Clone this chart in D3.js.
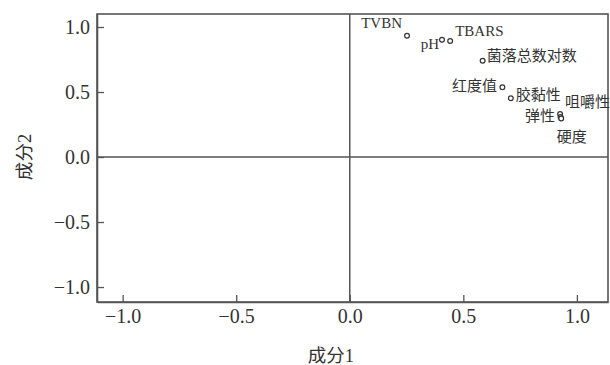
<!DOCTYPE html>
<html><head><meta charset="utf-8">
<script src="https://cdn.jsdelivr.net/npm/d3@7"></script>
<style>body{margin:0;background:#fff}</style>
</head><body><svg id="c" width="610" height="365"></svg>
<script>
// ---- data ----
const variables = ["TVBN", "pH", "TBARS", "菌落总数对数", "红度值", "胶黏性", "咀嚼性", "弹性", "硬度"];
const pc1 = [0.252, 0.406, 0.442, 0.585, 0.672, 0.709, 0.926, 0.928, 0.931];
const pc2 = [0.933, 0.902, 0.892, 0.741, 0.536, 0.452, 0.331, 0.308, 0.296];
const xTicks = [-1.0, -0.5, 0.0, 0.5, 1.0];
const yTicks = [-1.0, -0.5, 0.0, 0.5, 1.0];
const xTitle = "成分1";
const yTitle = "成分2";

// ---- label layout (offsets from the point, px) ----
const labelLayout = {
  "TVBN": {anchor: "end", dx: -5, dy: -7.5},
  "pH": {anchor: "end", dx: -3, dy: 9},
  "TBARS": {anchor: "start", dx: 5, dy: -5},
  "菌落总数对数": {anchor: "start", dx: 4, dy: 0},
  "红度值": {anchor: "end", dx: -5.5, dy: 4},
  "胶黏性": {anchor: "start", dx: 5, dy: 2},
  "咀嚼性": {anchor: "start", dx: 5, dy: -7},
  "弹性": {anchor: "end", dx: -5.5, dy: 4},
  "硬度": {anchor: "start", dx: -4.5, dy: 23.5}
};

const data = variables.map((v, i) => ({name: v, x: pc1[i], y: pc2[i]}));

const svg = d3.select("#c");
const L = 97, R = 608, T = 14, B = 302;
const x = d3.scaleLinear().domain([-1.113, 1.137]).range([L, R]);
const y = d3.scaleLinear().domain([-1.115, 1.1]).range([B, T]);

const lineColor = "#555";
const textColor = "#333";
const serif = "'Liberation Serif', 'Times New Roman', 'Noto Sans CJK SC', serif";

// frame
svg.append("rect").attr("x", L).attr("y", T).attr("width", R - L).attr("height", B - T)
  .attr("fill", "none").attr("stroke", lineColor).attr("stroke-width", 1.6);

// zero lines
svg.append("line").attr("x1", x(0)).attr("x2", x(0)).attr("y1", T).attr("y2", B)
  .attr("stroke", lineColor).attr("stroke-width", 1.5);
svg.append("line").attr("x1", L).attr("x2", R).attr("y1", y(0)).attr("y2", y(0))
  .attr("stroke", lineColor).attr("stroke-width", 1.5);

// axes
const fmt = d3.format(".1f");
const xAxis = svg.append("g").attr("transform", `translate(0,${B})`)
  .call(d3.axisBottom(x).tickValues(xTicks).tickFormat(fmt).tickSizeInner(-7).tickSizeOuter(0).tickPadding(7));
const yAxis = svg.append("g").attr("transform", `translate(${L},0)`)
  .call(d3.axisLeft(y).tickValues(yTicks).tickFormat(fmt).tickSizeInner(-7).tickSizeOuter(0).tickPadding(7));
[xAxis, yAxis].forEach(g => {
  g.select(".domain").attr("stroke", lineColor).attr("stroke-width", 1.6);
  g.selectAll(".tick line").attr("stroke", lineColor).attr("stroke-width", 1.3);
  g.selectAll(".tick text").attr("fill", textColor).attr("font-family", serif).attr("font-size", 20);
});

// axis titles
svg.append("text").attr("x", 331).attr("y", 362).attr("text-anchor", "middle")
  .attr("font-family", serif).attr("font-size", 18.5).attr("fill", textColor).text(xTitle);
svg.append("text").attr("transform", "translate(31,157) rotate(-90)").attr("text-anchor", "middle")
  .attr("font-family", serif).attr("font-size", 18.5).attr("fill", textColor).text(yTitle);

// points
svg.append("g").selectAll("circle").data(data).join("circle")
  .attr("cx", d => x(d.x)).attr("cy", d => y(d.y)).attr("r", 2.4)
  .attr("fill", "#fff").attr("stroke", "#333").attr("stroke-width", 1.2);

// labels
svg.append("g").selectAll("text").data(data).join("text")
  .attr("x", d => x(d.x) + labelLayout[d.name].dx)
  .attr("y", d => y(d.y) + labelLayout[d.name].dy)
  .attr("text-anchor", d => labelLayout[d.name].anchor)
  .attr("font-family", serif).attr("font-size", 15).attr("fill", textColor)
  .text(d => d.name);
</script>
</body></html>
